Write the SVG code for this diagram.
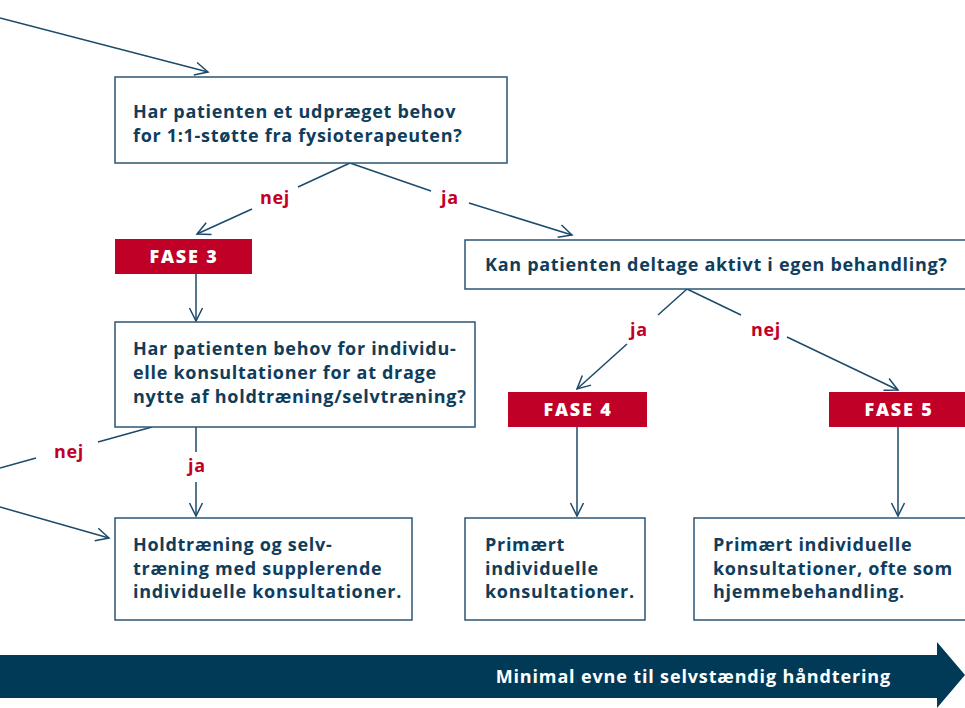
<svg xmlns="http://www.w3.org/2000/svg" width="965" height="708" viewBox="0 0 965 708">
<defs>
<marker id="ah" markerUnits="userSpaceOnUse" markerWidth="16" markerHeight="16" viewBox="0 0 16 16" refX="14" refY="8" orient="auto">
<path d="M1,1.5 L14,8 L1,14.5" fill="none" stroke="#1b4a6b" stroke-width="1.5"/>
</marker>
<style>
.box{fill:#fff;stroke:#2a5675;stroke-width:1.5}
.fase{fill:#c00026}
.t{font-family:"Open Sans","Liberation Sans",sans-serif;font-weight:700;font-size:18px;letter-spacing:0.7px;fill:#0f3d5c}
.ft{font-family:"Open Sans","Liberation Sans",sans-serif;font-weight:800;font-size:18px;letter-spacing:1.8px;fill:#fff;text-anchor:middle}
.lbl{font-family:"Open Sans","Liberation Sans",sans-serif;font-weight:700;font-size:18px;letter-spacing:0.7px;fill:#c00026;text-anchor:middle}
.c{fill:none;stroke:#1b4a6b;stroke-width:1.5}
</style>
</defs>
<rect width="965" height="708" fill="#fff"/>

<g id="connectors">
<line class="c" x1="0" y1="18" x2="208" y2="72" marker-end="url(#ah)"/>
<line class="c" x1="350" y1="163" x2="298" y2="187"/>
<line class="c" x1="252" y1="209" x2="197" y2="234" marker-end="url(#ah)"/>
<line class="c" x1="350" y1="163" x2="431" y2="191"/>
<line class="c" x1="469" y1="203" x2="572" y2="235" marker-end="url(#ah)"/>
<line class="c" x1="196" y1="274" x2="196" y2="321" marker-end="url(#ah)"/>
<line class="c" x1="152" y1="427" x2="98" y2="442"/>
<line class="c" x1="36" y1="458" x2="0" y2="468"/>
<line class="c" x1="196" y1="427" x2="196" y2="452"/>
<line class="c" x1="196" y1="482" x2="196" y2="516" marker-end="url(#ah)"/>
<line class="c" x1="0" y1="507" x2="109" y2="538" marker-end="url(#ah)"/>
<line class="c" x1="687" y1="289" x2="658" y2="315"/>
<line class="c" x1="627" y1="344" x2="577" y2="389" marker-end="url(#ah)"/>
<line class="c" x1="687" y1="289" x2="741" y2="315"/>
<line class="c" x1="787" y1="337" x2="898" y2="390" marker-end="url(#ah)"/>
<line class="c" x1="577" y1="427" x2="577" y2="516" marker-end="url(#ah)"/>
<line class="c" x1="898" y1="427" x2="898" y2="516" marker-end="url(#ah)"/>
<text class="lbl" x="275" y="204">nej</text>
<text class="lbl" x="450" y="204">ja</text>
<text class="lbl" x="69" y="458">nej</text>
<text class="lbl" x="197" y="472">ja</text>
<text class="lbl" x="639" y="336">ja</text>
<text class="lbl" x="766" y="336">nej</text>
</g>

<g id="q1">
<rect class="box" x="115" y="77" width="392" height="86"/>
<text class="t" x="133" y="118">Har patienten et udpræget behov</text>
<text class="t" x="133" y="142">for 1:1-støtte fra fysioterapeuten?</text>
</g>

<g id="fase3">
<rect class="fase" x="115" y="239" width="137" height="35"/>
<text class="ft" x="184" y="263">FASE 3</text>
</g>

<g id="q2">
<rect class="box" x="115" y="322" width="360" height="105"/>
<text class="t" x="133" y="355">Har patienten behov for individu-</text>
<text class="t" x="133" y="379">elle konsultationer for at drage</text>
<text class="t" x="133" y="403">nytte af holdtræning/selvtræning?</text>
</g>

<g id="r1">
<rect class="box" x="115" y="518" width="297" height="102"/>
<text class="t" x="133" y="551">Holdtræning og selv-</text>
<text class="t" x="133" y="575">træning med supplerende</text>
<text class="t" x="133" y="598">individuelle konsultationer.</text>
</g>

<g id="q3">
<rect class="box" x="465" y="240" width="510" height="49"/>
<text class="t" x="485" y="271">Kan patienten deltage aktivt i egen behandling?</text>
</g>

<g id="fase4">
<rect class="fase" x="508" y="392" width="139" height="35"/>
<text class="ft" x="578" y="416">FASE 4</text>
</g>

<g id="fase5">
<rect class="fase" x="829" y="392" width="146" height="35"/>
<text class="ft" x="899" y="416">FASE 5</text>
</g>

<g id="r2">
<rect class="box" x="465" y="518" width="180" height="102"/>
<text class="t" x="485" y="551">Primært</text>
<text class="t" x="485" y="575">individuelle</text>
<text class="t" x="485" y="598">konsultationer.</text>
</g>

<g id="r3">
<rect class="box" x="694" y="518" width="281" height="102"/>
<text class="t" x="713" y="551">Primært individuelle</text>
<text class="t" x="713" y="575">konsultationer, ofte som</text>
<text class="t" x="713" y="598">hjemmebehandling.</text>
</g>

<g id="banner">
<path d="M0,655 L937,655 L937,642 L965,675 L937,708 L937,698 L0,698 Z" fill="#003a57"/>
<text x="891" y="683" text-anchor="end" font-family="'Open Sans','Liberation Sans',sans-serif" font-weight="700" font-size="18" letter-spacing="0.85" fill="#fff">Minimal evne til selvstændig håndtering</text>
</g>
</svg>
